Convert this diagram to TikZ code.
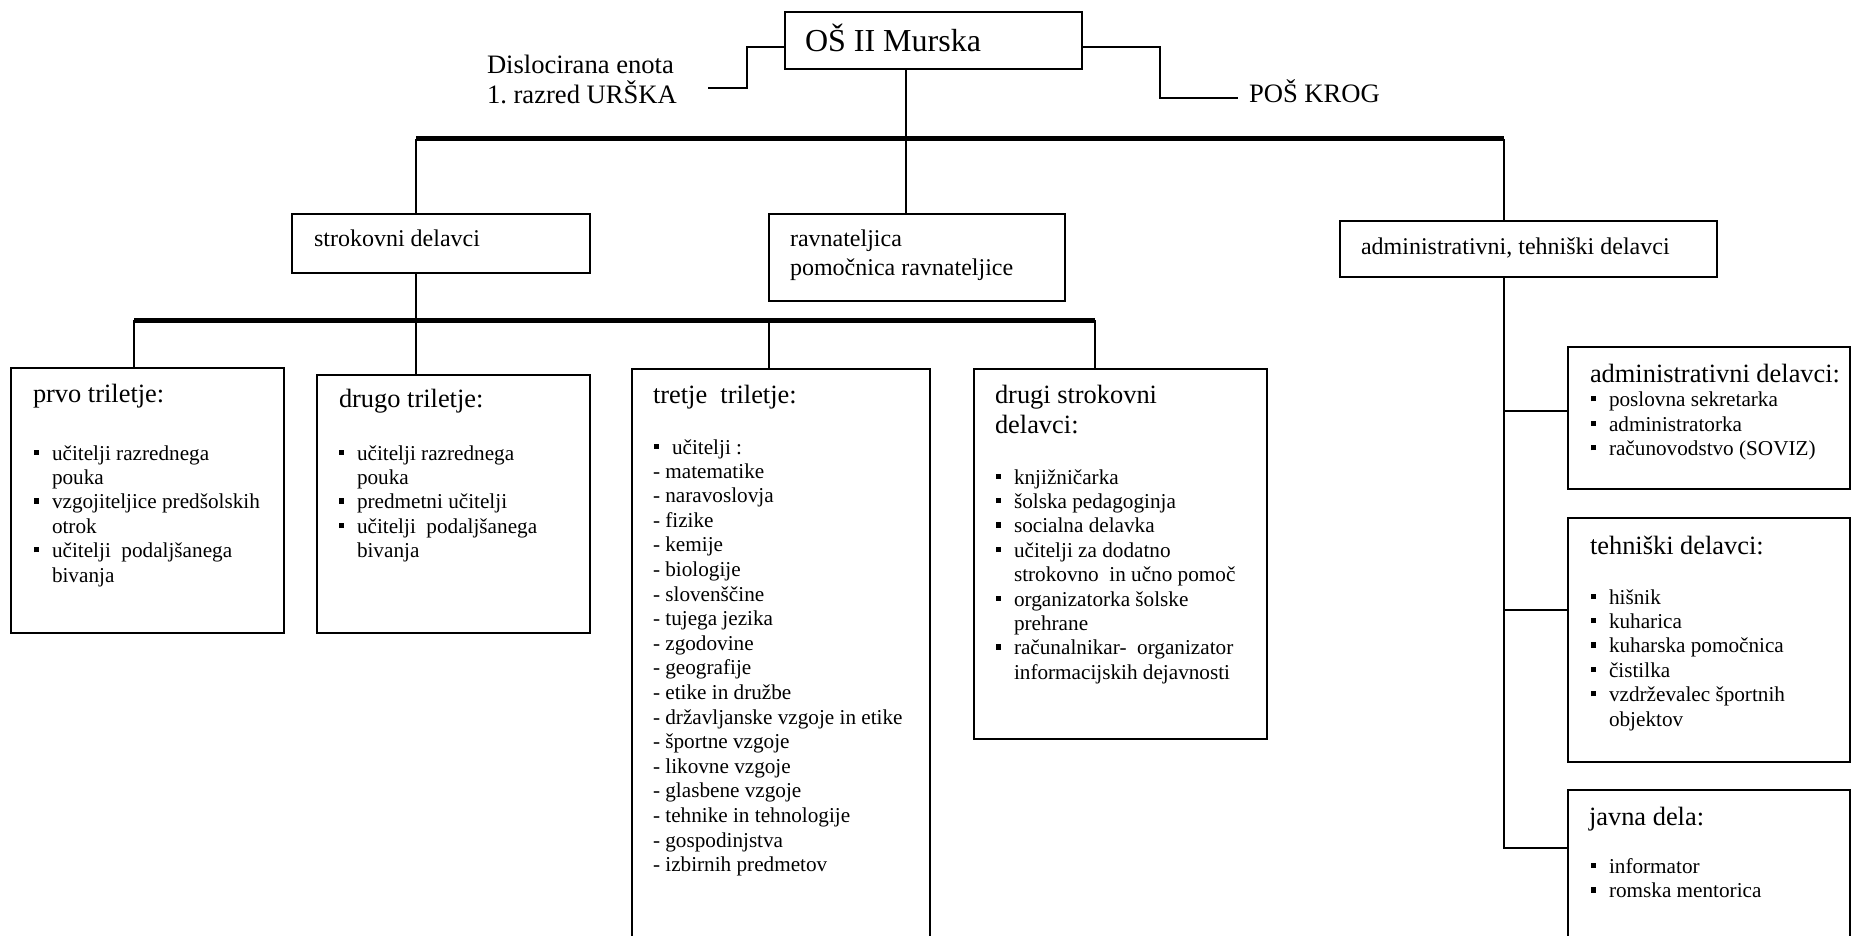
\documentclass[tikz,border=0pt]{standalone}
\usepackage{fontspec}
\setmainfont{Liberation Serif}
\usetikzlibrary{fit}
\frenchspacing
\newcommand\bul{\llap{\rule[2.6pt]{2.6pt}{2.6pt}\hspace{6.5pt}}}
\newcommand\putlines[5]{\foreach \t [count=\i] in {#5} {\node[body] (#1\i) at ({#2},{#3+#4*(\i-1)}) {\t};}}
\begin{document}
\begin{tikzpicture}[x=0.5pt, y=-0.5pt, line width=1pt,
  box/.style={draw, line width=1pt, inner sep=0pt, outer sep=0pt},
  thickbar/.style={line width=2.5pt},
  body/.style={inner sep=0pt, anchor=base west, font=\fontsize{10.6}{12.2}\selectfont},
  ttl/.style={inner sep=0pt, anchor=base west, font=\fontsize{13.2}{15.2}\selectfont},
  mid/.style={inner sep=0pt, anchor=base west, font=\fontsize{12}{14}\selectfont},
  side/.style={inner sep=0pt, anchor=base west, font=\fontsize{13.3}{15}\selectfont}]
\useasboundingbox (0,0) rectangle (1852,936);
\fill[white] (0,0) rectangle (1852,936);
\clip (0,0) rectangle (1852,936);

% boxes
\node[box, fit={(785,12)(1082,69)}] (top) {};
\node[box, fit={(292,214)(590,273)}] (strok) {};
\node[box, fit={(769,214)(1065,301)}] (rav) {};
\node[box, fit={(1340,221)(1717,277)}] (adm) {};
\node[box, fit={(11,368)(284,633)}] (prvo) {};
\node[box, fit={(317,375)(590,633)}] (drugo) {};
\node[box, fit={(632,369)(930,960)}] (tretje) {};
\node[box, fit={(974,369)(1267,739)}] (dsd) {};
\node[box, fit={(1568,347)(1850,489)}] (admd) {};
\node[box, fit={(1568,518)(1850,762)}] (tehn) {};
\node[box, fit={(1568,790)(1850,960)}] (javna) {};

% top texts
\node[inner sep=0pt, anchor=base west, font=\fontsize{16}{18}\selectfont] (topt) at (804,52) {OŠ II Murska};
\node[side] (dis1) at (486,74) {Dislocirana enota};
\node[side] (dis2) at (486,104) {1. razred URŠKA};
\node[side] (posk) at (1248,103) {POŠ KROG};
\node[mid] (strokt) at (313,247) {strokovni delavci};
\node[mid] (rav1) at (789,247) {ravnateljica};
\node[mid] (rav2) at (789,276) {pomočnica ravnateljice};
\node[mid] (admt) at (1360,255) {administrativni, tehniški delavci};

% prvo triletje
\node[ttl] (prvot) at (32,402) {prvo triletje:};
\putlines{pl}{51}{460}{24.4}{\bul učitelji razrednega, pouka, \bul vzgojiteljice predšolskih, otrok, \bul učitelji\ \ podaljšanega, bivanja}

% drugo triletje
\node[ttl] (drugot) at (338,407) {drugo triletje:};
\putlines{dl}{356}{460}{24.4}{\bul učitelji razrednega, pouka, \bul predmetni učitelji, \bul učitelji\ \ podaljšanega, bivanja}

% tretje triletje
\node[ttl] (tretjet) at (652,403) {tretje\ \ triletje:};
\node[body] (tucit) at (671,454) {\bul učitelji :};
\putlines{tl}{652}{478}{24.6}{- matematike, - naravoslovja, - fizike, - kemije, - biologije, - slovenščine, - tujega jezika, - zgodovine, - geografije, - etike in družbe, - državljanske vzgoje in etike, - športne vzgoje, - likovne vzgoje, - glasbene vzgoje, - tehnike in tehnologije, - gospodinjstva, - izbirnih predmetov}

% drugi strokovni delavci
\node[ttl] (dsdt1) at (994,403) {drugi strokovni};
\node[ttl] (dsdt2) at (994,433) {delavci:};
\putlines{sl}{1013}{484}{24.4}{\bul knjižničarka, \bul šolska pedagoginja, \bul socialna delavka, \bul učitelji za dodatno, strokovno\ \ in učno pomoč, \bul organizatorka šolske, prehrane, \bul računalnikar-\ \ organizator, informacijskih dejavnosti}

% administrativni delavci
\node[ttl] (admdt) at (1589,382) {administrativni delavci:};
\putlines{al}{1608}{406.5}{24.5}{\bul poslovna sekretarka, \bul administratorka, \bul računovodstvo (SOVIZ)}

% tehniski delavci
\node[ttl] (tehnt) at (1589,554) {tehniški delavci:};
\putlines{hl}{1608}{604}{24.4}{\bul hišnik, \bul kuharica, \bul kuharska pomočnica, \bul čistilka, \bul vzdrževalec športnih, objektov}

% javna dela
\node[ttl] (javnat) at (1588,825) {javna dela:};
\putlines{jl}{1608}{873}{24.8}{\bul informator, \bul romska mentorica}

% connectors
\coordinate (dlk) at (747,47);
\coordinate (dle) at (708,88);
\draw (top.west |- dlk) -- (dlk) |- (dle);
\coordinate (pk) at (1160,47);
\coordinate (pe) at (1238,98);
\draw (top.east |- pk) -- (pk) |- (pe);

\coordinate (L1) at (416,139);
\coordinate (R1) at (1504,139);
\coordinate (M1) at (906,139);
\draw[thickbar] (L1) -- (R1);
\draw (top.south -| M1) -- (rav.north -| M1);
\draw (L1) -- (strok.north -| L1);
\draw (R1) -- (adm.north -| R1);

\coordinate (L2) at (134,320);
\coordinate (J2) at (416,320);
\coordinate (J3) at (769,320);
\coordinate (R2) at (1095,320);
\draw[thickbar] (L2) -- (R2);
\draw (strok.south -| J2) -- (J2) -- (drugo.north -| J2);
\draw (L2) -- (prvo.north -| L2);
\draw (J3) -- (tretje.north -| J3);
\draw (R2) -- (dsd.north -| R2);

\coordinate (B1) at (1504,411);
\coordinate (B2) at (1504,610);
\coordinate (B3) at (1504,848);
\draw (adm.south -| B1) -- (B3) -- (javna.west |- B3);
\draw (B1) -- (admd.west |- B1);
\draw (B2) -- (tehn.west |- B2);
\end{tikzpicture}
\end{document}
